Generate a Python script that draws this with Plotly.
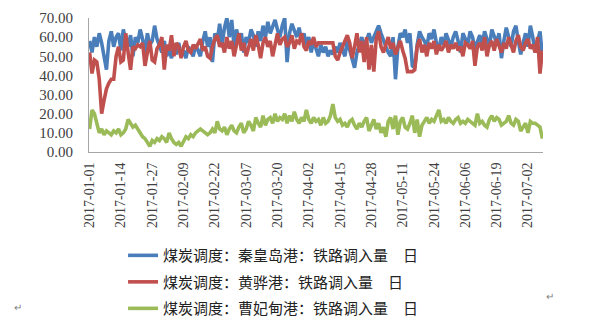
import plotly.graph_objects as go
import pandas as pd

dates = pd.date_range("2017-01-01", periods=189, freq="D")

qhd = [58, 52, 60, 55, 62, 57, 50, 43, 58, 63,
       55, 60, 62, 53, 64, 58, 55, 61, 50, 60,
       57, 64, 59, 52, 62, 56, 58, 66, 59, 55,
       52, 58, 50, 54, 49, 55, 51, 57, 50, 53,
       49, 55, 52, 50, 56, 53, 50, 58, 63, 55,
       60, 47, 62, 58, 67, 56, 65, 70, 60, 69,
       55, 64, 58, 62, 52, 60, 57, 64, 61, 55,
       63, 58, 66, 60, 68, 62, 65, 69, 64, 60,
       66, 70, 47, 62, 67, 63, 60, 65, 58, 62,
       56, 60, 52, 58, 54, 50, 56, 52, 55, 50,
       53, 51, 55, 52, 57, 54, 50, 58, 53, 48,
       44, 52, 56, 60, 55, 58, 62, 57, 60, 64,
       66, 62, 58, 55, 52, 50, 60, 38, 55, 62,
       60, 64, 57, 62, 45, 44, 56, 63, 60, 58,
       55, 62, 59, 64, 57, 53, 60, 56, 62, 58,
       55, 60, 63, 58, 52, 62, 59, 56, 63, 60,
       54, 58, 61, 56, 63, 59, 55, 64, 60, 57,
       62, 49, 58, 65, 60, 55, 63, 66, 58, 51,
       57, 62, 55, 66, 60, 52, 58, 63, 50]

hh = [52, 41, 48, 47, 38, 20, 27, 33, 36, 38,
      38, 50, 55, 47, 48, 62, 52, 43, 55, 54,
      56, 55, 57, 45, 52, 58, 48, 47, 54, 56,
      60, 43, 56, 53, 61, 50, 57, 55, 49, 55,
      58, 53, 52, 56, 54, 57, 59, 53, 55, 50,
      49, 55, 59, 61, 55, 57, 52, 60, 54, 58,
      50, 56, 62, 53, 57, 50, 55, 59, 53, 61,
      56, 49, 57, 60, 55, 58, 50, 57, 62, 56,
      59, 60, 55, 57, 61, 54, 58, 57, 62, 55,
      53, 58, 56, 60, 55, 57, 57, 57, 57, 57,
      57, 57, 50, 48, 52, 55, 58, 61, 57, 49,
      55, 62, 52, 58, 47, 60, 43, 56, 42, 59,
      63, 55, 52, 56, 60, 54, 57, 51, 55, 58,
      53, 49, 42, 42, 42, 43, 55, 59, 52, 56,
      50, 57, 54, 58, 51, 56, 53, 55, 58, 52,
      56, 54, 57, 53, 55, 50, 57, 56, 54, 58,
      45, 55, 57, 53, 60, 50, 56, 58, 53, 59,
      55, 52, 57, 54, 60, 56, 52, 58, 61, 55,
      53, 57, 59, 54, 56, 52, 60, 41, 53]

cfd = [12, 22, 20, 15, 10, 12, 9, 11, 10, 9,
       11, 10, 12, 9, 10, 12, 17, 15, 13, 14,
       12, 10, 8, 7, 5, 3, 6, 5, 7, 6,
       8, 7, 5, 10, 7, 5, 4, 5, 3, 6,
       8, 7, 9, 8, 10, 11, 12, 11, 10, 9,
       10, 12, 10, 16, 12, 11, 13, 9, 12, 14,
       11, 10, 13, 15, 10, 12, 16, 14, 11, 18,
       15, 13, 19, 14, 17, 18, 15, 20, 16, 18,
       17, 20, 15, 19, 16, 21, 17, 15, 18, 16,
       22, 17, 15, 18, 16, 17, 14, 18, 15, 16,
       19, 25, 18, 16, 17, 14, 15, 13, 16, 17,
       14, 12, 15, 13, 16, 18, 11, 14, 17, 12,
       15, 10, 13, 8, 16, 18, 12, 19, 9, 16,
       18, 13, 12, 15, 19, 10, 17, 8, 14, 16,
       18, 15, 17, 16, 19, 22, 16, 17, 15, 18,
       16, 15, 17, 18, 15, 16, 15, 17, 16, 15,
       14, 20, 15, 16, 14, 13, 17, 19, 16, 18,
       17, 14, 15, 16, 19, 15, 14, 17, 16, 11,
       13, 15, 10, 16, 15, 15, 14, 13, 7]

names = ["煤炭调度：秦皇岛港：铁路调入量　日",
         "煤炭调度：黄骅港：铁路调入量　日",
         "煤炭调度：曹妃甸港：铁路调入量　日"]
colors = ["#4A7EBB", "#C0504D", "#9BBB59"]

fig = go.Figure()
for i, (vals, nm, col) in enumerate(zip([qhd, hh, cfd], names, colors)):
    fig.add_trace(go.Scatter(x=dates, y=vals, mode="lines", name=nm,
                             legendgroup=f"g{i}",
                             line=dict(color=col, width=3.6)))

fig.update_layout(
    width=604, height=336,
    margin=dict(l=89, r=61, t=10, b=184),
    paper_bgcolor="white", plot_bgcolor="white",
    showlegend=True,
    legend=dict(x=0.075, xanchor="left", y=-0.65, yanchor="top",
                traceorder="grouped", tracegroupgap=4,
                font=dict(family="Noto Sans CJK SC", size=15, color="#222222"),
                bgcolor="rgba(0,0,0,0)"),
    font=dict(family="Liberation Serif", color="#404040"),
)
fig.update_xaxes(
    type="date",
    range=["2016-12-31 18:00", "2017-07-08 06:00"],
    tick0="2017-01-01", dtick=13 * 86400000,
    tickformat="%Y-%m-%d", tickangle=-90,
    tickfont=dict(family="Liberation Serif", size=14, color="#404040"),
    showgrid=False, zeroline=False,
    showline=True, linecolor="#A6A6A6", linewidth=1,
    ticks="", ticklabelstandoff=4,
)
fig.update_yaxes(
    range=[0, 70], dtick=10, tickformat=".2f",
    tickfont=dict(family="Liberation Serif", size=15, color="#404040"),
    showgrid=False, zeroline=False,
    showline=True, linecolor="#A6A6A6", linewidth=1,
    ticks="", ticklabelstandoff=12,
)
fig.add_annotation(text="↵", xref="paper", yref="paper", x=(556 - 89) / 454,
                   y=(152 - 313) / 142, showarrow=False,
                   font=dict(size=10, color="#808080"))
fig.add_annotation(text="↵", xref="paper", yref="paper", x=(12 - 89) / 454,
                   y=(152 - 325) / 142, showarrow=False,
                   font=dict(size=10, color="#808080"))

fig.write_html("out.html")
